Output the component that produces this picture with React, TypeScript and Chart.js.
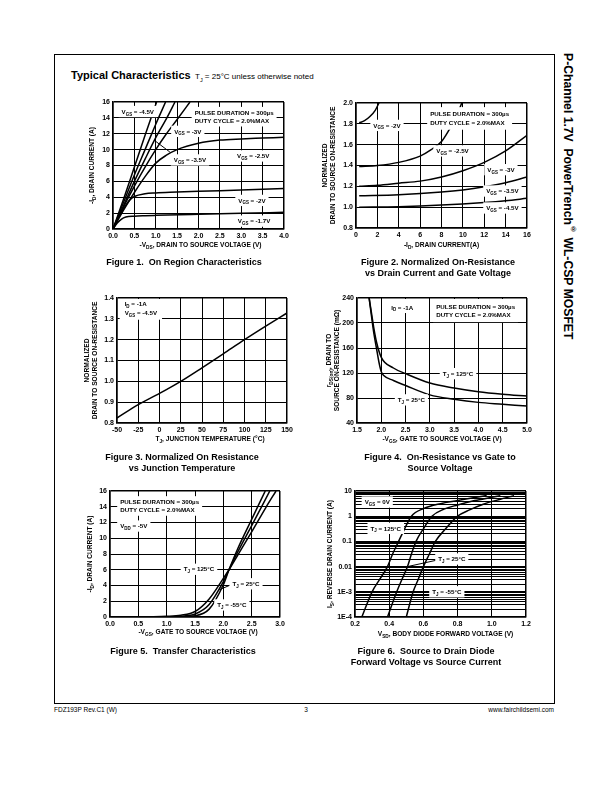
import React, { useEffect, useRef } from "react";
import { Chart, registerables } from "chart.js";

Chart.register(...registerables);

const FONT = "'Liberation Sans', Arial, Helvetica, sans-serif";

// ===== Figure 1: On Region Characteristics =====
const fig1XTicks = [0, 0.5, 1, 1.5, 2, 2.5, 3, 3.5, 4];
const fig1YTicks = [0, 2, 4, 6, 8, 10, 12, 14, 16];
const fig1Vgs45X = [0, 0.25, 0.5, 0.75, 1.02];
const fig1Vgs45Y = [0, 3.8, 7.8, 11.8, 16];
const fig1Vgs4X = [0, 0.25, 0.5, 0.75, 1, 1.23];
const fig1Vgs4Y = [0, 3.4, 6.8, 10, 13.2, 16];
const fig1Vgs35X = [0, 0.25, 0.5, 0.75, 1, 1.25, 1.45];
const fig1Vgs35Y = [0, 3, 6, 8.8, 11.5, 13.9, 16];
const fig1Vgs3X = [0, 0.25, 0.5, 0.75, 1, 1.25, 1.5, 1.8];
const fig1Vgs3Y = [0, 2.8, 5.4, 7.8, 10, 12, 13.8, 16];
const fig1Vgs25X = [0, 0.25, 0.5, 0.75, 1, 1.25, 1.5, 2, 2.5, 3, 3.5, 4];
const fig1Vgs25Y = [0, 2.4, 4.6, 6.6, 8.3, 9.3, 10, 10.8, 11.2, 11.35, 11.45, 11.55];
const fig1Vgs2X = [0, 0.1, 0.2, 0.3, 0.4, 0.5, 0.75, 1, 1.5, 2, 3, 4];
const fig1Vgs2Y = [0, 1.1, 2.1, 3.0, 3.7, 4.1, 4.45, 4.55, 4.65, 4.75, 4.9, 5.1];
const fig1Vgs17X = [0, 0.1, 0.2, 0.3, 0.5, 0.75, 1, 2, 3, 4];
const fig1Vgs17Y = [0, 0.75, 1.25, 1.5, 1.62, 1.68, 1.72, 1.85, 1.97, 2.1];

// ===== Figure 2: Normalized On-Resistance vs Drain Current =====
const fig2XTicks = [0, 2, 4, 6, 8, 10, 12, 14, 16];
const fig2YTicks = [0.8, 1.0, 1.2, 1.4, 1.6, 1.8, 2.0];
const fig2Vgs2X = [0.3, 0.8, 1.3, 1.8, 2.15];
const fig2Vgs2Y = [1.81, 1.83, 1.87, 1.93, 2.0];
const fig2Vgs25X = [0.3, 2, 4, 6, 7, 8, 8.7, 9.3, 9.9];
const fig2Vgs25Y = [1.39, 1.4, 1.43, 1.49, 1.55, 1.63, 1.74, 1.85, 2.0];
const fig2Vgs3X = [0.3, 2, 4, 6, 8, 10, 12, 14, 16];
const fig2Vgs3Y = [1.2, 1.21, 1.23, 1.25, 1.29, 1.35, 1.43, 1.54, 1.69];
const fig2Vgs35X = [0.3, 4, 8, 10, 12, 14, 16];
const fig2Vgs35Y = [1.11, 1.12, 1.145, 1.165, 1.195, 1.235, 1.29];
const fig2Vgs45X = [0.3, 4, 8, 12, 14, 16];
const fig2Vgs45Y = [1.0, 1.005, 1.02, 1.045, 1.062, 1.085];

// ===== Figure 3: Normalized On-Resistance vs Junction Temperature =====
const fig3XTicks = [-50, -25, 0, 25, 50, 75, 100, 125, 150];
const fig3YTicks = [0.8, 0.9, 1.0, 1.1, 1.2, 1.3, 1.4];
const fig3TempX = [-50, -25, 0, 25, 50, 75, 100, 125, 150];
const fig3RdsY = [0.824, 0.888, 0.942, 1.0, 1.065, 1.132, 1.2, 1.265, 1.328];

// ===== Figure 4: On-Resistance vs Gate to Source Voltage =====
const fig4XTicks = [1.5, 2.0, 2.5, 3.0, 3.5, 4.0, 4.5, 5.0];
const fig4YTicks = [40, 80, 120, 160, 200, 240];
const fig4T125X = [1.75, 1.8, 1.85, 1.9, 2.0, 2.25, 2.5, 3, 3.5, 4, 4.5, 5];
const fig4T125Y = [240, 215, 190, 170, 145, 128, 119, 104, 96, 90, 86, 83];
const fig4T25X = [1.75, 1.8, 1.85, 1.9, 1.95, 2.0, 2.05, 2.25, 2.5, 3, 3.5, 4, 4.5, 5];
const fig4T25Y = [240, 210, 182, 160, 138, 122, 116, 108, 100, 85, 78, 73, 70, 67];

// ===== Figure 5: Transfer Characteristics =====
const fig5XTicks = [0, 0.5, 1.0, 1.5, 2.0, 2.5, 3.0];
const fig5YTicks = [0, 2, 4, 6, 8, 10, 12, 14, 16];
const fig5T125X = [0.65, 1.0, 1.25, 1.5, 1.75, 2.0, 2.1, 2.25, 2.5, 2.75, 2.93];
const fig5T125Y = [0.02, 0.08, 0.22, 0.7, 2.3, 4.9, 6.0, 7.8, 10.8, 13.9, 16];
const fig5T25X = [0.65, 1.0, 1.25, 1.5, 1.75, 2.0, 2.1, 2.25, 2.5, 2.82];
const fig5T25Y = [0.01, 0.03, 0.1, 0.38, 1.6, 4.5, 6.0, 8.2, 11.6, 16];
const fig5Tm55X = [0.65, 1.0, 1.25, 1.5, 1.75, 2.0, 2.1, 2.25, 2.5, 2.74];
const fig5Tm55Y = [0, 0.01, 0.04, 0.15, 1.0, 4.1, 6.0, 8.6, 12.4, 16];

// ===== Figure 6: Source to Drain Diode Forward Voltage =====
const fig6XTicks = [0.2, 0.4, 0.6, 0.8, 1.0, 1.2];
const fig6YDecades = [0.0001, 0.001, 0.01, 0.1, 1, 10];
const fig6YDecadeLabels = ["1E-4", "1E-3", "0.01", "0.1", "1", "10"];
const fig6T125X = [0.24, 0.3, 0.345, 0.39, 0.42, 0.455, 0.49, 0.53, 0.6, 0.7, 0.8, 0.9, 0.97];
const fig6T125Y = [0.0001, 0.001, 0.00316, 0.01, 0.0316, 0.1, 0.316, 1, 2.0, 3.16, 4.17, 5.5, 6.6];
const fig6T25X = [0.39, 0.444, 0.475, 0.507, 0.53, 0.557, 0.6, 0.65, 0.72, 0.8, 0.9, 1.0, 1.05];
const fig6T25Y = [0.0001, 0.001, 0.00316, 0.01, 0.0316, 0.1, 0.316, 1, 1.9, 2.8, 4.17, 5.6, 6.5];
const fig6Tm55X = [0.5, 0.54, 0.57, 0.6, 0.635, 0.67, 0.73, 0.8, 0.87, 0.95, 1.05, 1.13];
const fig6Tm55Y = [0.0001, 0.001, 0.00316, 0.01, 0.0316, 0.1, 0.316, 1, 1.78, 3.0, 4.7, 6.5];

// ---------- rich text helpers ----------
type Seg = { t: string; m: number };
function parseRich(s: string): Seg[] {
  const out: Seg[] = [];
  let buf = "";
  let i = 0;
  while (i < s.length) {
    if ((s[i] === "_" || s[i] === "^") && s[i + 1] === "{") {
      if (buf) { out.push({ t: buf, m: 0 }); buf = ""; }
      const end = s.indexOf("}", i);
      out.push({ t: s.slice(i + 2, end), m: s[i] === "_" ? 1 : 2 });
      i = end + 1;
    } else {
      buf += s[i];
      i++;
    }
  }
  if (buf) out.push({ t: buf, m: 0 });
  return out;
}
function segFont(seg: Seg, size: number, weight: string) {
  const sz = seg.m ? size * 0.72 : size;
  return `${weight} ${sz}px ${FONT}`;
}
function richMeasure(ctx: CanvasRenderingContext2D, s: string, size: number, weight: string) {
  let w = 0;
  for (const seg of parseRich(s)) {
    ctx.font = segFont(seg, size, weight);
    w += ctx.measureText(seg.t).width;
  }
  return w;
}
function richDraw(ctx: CanvasRenderingContext2D, s: string, x: number, y: number, size: number, weight: string, align: string) {
  const segs = parseRich(s);
  const total = richMeasure(ctx, s, size, weight);
  let cx = align === "center" ? x - total / 2 : align === "right" ? x - total : x;
  ctx.textAlign = "left";
  ctx.textBaseline = "alphabetic";
  ctx.fillStyle = "#000";
  const base = y + size * 0.35;
  for (const seg of segs) {
    ctx.font = segFont(seg, size, weight);
    const dy = seg.m === 1 ? size * 0.3 : seg.m === 2 ? -size * 0.38 : 0;
    ctx.fillText(seg.t, cx, base + dy);
    cx += ctx.measureText(seg.t).width;
  }
}

type Label = { x: number; y: number; lines: string[]; align?: string; padX?: number; padY?: number; toTop?: boolean };
type Spec = {
  plot: { l: number; t: number; r: number; b: number };
  series: { x: number[]; y: number[] }[];
  xMin: number; xMax: number; yMin: number; yMax: number;
  xTicks: number[]; yTicks: number[];
  xFmt: (v: number) => string; yFmt: (v: number) => string;
  yLog?: boolean;
  labels: Label[];
  leaders?: number[][];
  xTitle: string; xTitleDx?: number; xTitleDy: number;
  yTitle: string[]; yTitleOff: number[];
};

const ML = 52, MT = 12, MR = 14, MB = 30, YW = 24, XH = 12;

function makeDeco(spec: Spec) {
  return {
    id: "deco",
    afterDatasetsDraw(chart: any) {
      const ctx: CanvasRenderingContext2D = chart.ctx;
      const xs = chart.scales.x, ys = chart.scales.y, a = chart.chartArea;
      ctx.save();
      ctx.beginPath();
      ctx.rect(a.left + 1, a.top + 1, a.right - a.left - 2, a.bottom - a.top - 2);
      ctx.clip();
      ctx.strokeStyle = "#000";
      ctx.lineWidth = 1;
      for (const L of spec.leaders || []) {
        ctx.beginPath();
        ctx.moveTo(xs.getPixelForValue(L[0]), ys.getPixelForValue(L[1]));
        ctx.lineTo(xs.getPixelForValue(L[2]), ys.getPixelForValue(L[3]));
        ctx.stroke();
      }
      for (const an of spec.labels) {
        const size = 6.2, lh = 8.3;
        const px = xs.getPixelForValue(an.x), py = ys.getPixelForValue(an.y);
        const w = Math.max(...an.lines.map((l) => richMeasure(ctx, l, size, "bold")));
        const h = lh * an.lines.length;
        const left = an.align === "left" ? px : px - w / 2;
        const top = py - h / 2;
        const padX = an.padX ?? 3, padY = an.padY ?? 1.5;
        const boxTop = an.toTop ? a.top : top - padY;
        ctx.fillStyle = "#fff";
        ctx.fillRect(left - padX, boxTop, w + 2 * padX, top + h + padY - boxTop);
        an.lines.forEach((l, i) => richDraw(ctx, l, left, top + lh * (i + 0.5), size, "bold", "left"));
      }
      ctx.restore();
      ctx.save();
      const cx = (a.left + a.right) / 2 + (spec.xTitleDx || 0);
      richDraw(ctx, spec.xTitle, cx, a.bottom + spec.xTitleDy, 6.6, "bold", "center");
      const cy = (a.top + a.bottom) / 2;
      spec.yTitle.forEach((t, i) => {
        ctx.save();
        ctx.translate(a.left - spec.yTitleOff[i], cy);
        ctx.rotate(-Math.PI / 2);
        richDraw(ctx, t, 0, 0, 6.6, "bold", "center");
        ctx.restore();
      });
      ctx.restore();
    },
  };
}

function gridWidth(n: () => number) {
  return (c: any) => (c.index === 0 || c.index === n() - 1 ? 1.5 : 1);
}

function ChartBox({ spec }: { spec: Spec }) {
  const ref = useRef<HTMLCanvasElement>(null);
  const { l, t, r, b } = spec.plot;
  const w = r - l + ML + MR;
  const h = b - t + MT + MB;
  useEffect(() => {
    const tickFont = { family: FONT, size: 7, weight: "bold" as const };
    const xTickVals = spec.xTicks;
    const yTickVals = spec.yTicks;
    const chart = new Chart(ref.current!, {
      type: "line",
      data: {
        datasets: spec.series.map((s) => ({
          data: s.x.map((x, i) => ({ x, y: s.y[i] })),
          borderColor: "#000",
          borderWidth: 1.5,
          pointRadius: 0,
          fill: false,
          cubicInterpolationMode: "monotone" as const,
        })),
      },
      options: {
        animation: false,
        responsive: false,
        maintainAspectRatio: false,
        layout: { padding: { left: ML - YW, top: MT, right: MR, bottom: MB - XH } },
        plugins: { legend: { display: false }, tooltip: { enabled: false }, title: { display: false } },
        scales: {
          x: {
            type: "linear",
            min: spec.xMin,
            max: spec.xMax,
            afterBuildTicks: (s: any) => { s.ticks = xTickVals.map((v) => ({ value: v })); },
            afterFit: (s: any) => { s.height = XH; },
            ticks: { autoSkip: false, maxRotation: 0, padding: 3, color: "#000", font: tickFont, callback: (v: any) => spec.xFmt(Number(v)) },
            grid: { color: "#000", lineWidth: gridWidth(() => xTickVals.length), drawTicks: false },
            border: { display: true, color: "#000", width: 1.5 },
          },
          y: {
            type: spec.yLog ? "logarithmic" : "linear",
            min: spec.yMin,
            max: spec.yMax,
            afterBuildTicks: (s: any) => { s.ticks = yTickVals.map((v) => ({ value: v })); },
            afterFit: (s: any) => { s.width = YW; },
            ticks: { autoSkip: false, padding: 3, color: "#000", font: tickFont, callback: (v: any) => spec.yFmt(Number(v)) },
            grid: { color: "#000", lineWidth: gridWidth(() => yTickVals.length), drawTicks: false },
            border: { display: true, color: "#000", width: 1.5 },
          },
        },
      } as any,
      plugins: [makeDeco(spec)],
    });
    return () => chart.destroy();
  }, []);
  return (
    <canvas
      ref={ref}
      width={w}
      height={h}
      style={{ position: "absolute", left: l - ML, top: t - MT, width: w, height: h }}
    />
  );
}

const f1 = (v: number) => v.toFixed(1);
const f0 = (v: number) => String(Math.round(v));

const fig6YAll: number[] = [];
fig6YDecades.forEach((d, i) => {
  if (i === fig6YDecades.length - 1) { fig6YAll.push(d); return; }
  for (let k = 1; k <= 9; k++) fig6YAll.push(d * k);
});
const fig6YFmt = (v: number) => {
  const lg = Math.log10(v);
  if (Math.abs(lg - Math.round(lg)) < 1e-6) {
    const idx = fig6YDecades.findIndex((d) => Math.abs(Math.log10(d) - lg) < 1e-6);
    return idx >= 0 ? fig6YDecadeLabels[idx] : "";
  }
  return "";
};

const specs: Spec[] = [
  {
    plot: { l: 113, t: 102, r: 284, b: 229 },
    series: [
      { x: fig1Vgs45X, y: fig1Vgs45Y }, { x: fig1Vgs4X, y: fig1Vgs4Y }, { x: fig1Vgs35X, y: fig1Vgs35Y },
      { x: fig1Vgs3X, y: fig1Vgs3Y }, { x: fig1Vgs25X, y: fig1Vgs25Y }, { x: fig1Vgs2X, y: fig1Vgs2Y },
      { x: fig1Vgs17X, y: fig1Vgs17Y },
    ],
    xMin: 0, xMax: 4, yMin: 0, yMax: 16, xTicks: fig1XTicks, yTicks: fig1YTicks, xFmt: f1, yFmt: f0,
    labels: [
      { x: 0.58, y: 14.8, lines: ["V_{GS} = -4.5V"] },
      { x: 1.91, y: 14.15, align: "left", lines: ["PULSE DURATION = 300µs", "DUTY CYCLE = 2.0%MAX"] },
      { x: 1.75, y: 12.3, lines: ["V_{GS} = -3V"] },
      { x: 1.8, y: 8.7, lines: ["V_{GS} = -3.5V"] },
      { x: 3.28, y: 9.2, lines: ["V_{GS} = -2.5V"] },
      { x: 3.25, y: 3.6, lines: ["V_{GS} = -2V"] },
      { x: 3.3, y: 1.0, lines: ["V_{GS} = -1.7V"] },
    ],
    leaders: [[0.96, 11.2, 1.33, 9.7]],
    xTitle: "-V_{DS}, DRAIN TO SOURCE VOLTAGE (V)", xTitleDx: 2, xTitleDy: 16,
    yTitle: ["-I_{D}, DRAIN CURRENT (A)"], yTitleOff: [21.5],
  },
  {
    plot: { l: 356, t: 103, r: 527, b: 228 },
    series: [
      { x: fig2Vgs2X, y: fig2Vgs2Y }, { x: fig2Vgs25X, y: fig2Vgs25Y }, { x: fig2Vgs3X, y: fig2Vgs3Y },
      { x: fig2Vgs35X, y: fig2Vgs35Y }, { x: fig2Vgs45X, y: fig2Vgs45Y },
    ],
    xMin: 0, xMax: 16, yMin: 0.8, yMax: 2.0, xTicks: fig2XTicks, yTicks: fig2YTicks, xFmt: f0, yFmt: f1,
    labels: [
      { x: 2.9, y: 1.785, lines: ["V_{GS} = -2V"] },
      { x: 6.94, y: 1.852, align: "left", padY: 3, lines: ["PULSE DURATION = 300µs", "DUTY CYCLE = 2.0%MAX"] },
      { x: 9.03, y: 1.54, lines: ["V_{GS} = -2.5V"] },
      { x: 13.56, y: 1.36, lines: ["V_{GS} = -3V"] },
      { x: 13.7, y: 1.155, lines: ["V_{GS} = -3.5V"] },
      { x: 13.7, y: 0.992, lines: ["V_{GS} = -4.5V"] },
    ],
    xTitle: "-I_{D}, DRAIN CURRENT(A)", xTitleDy: 17,
    yTitle: ["NORMALIZED", "DRAIN TO SOURCE ON-RESISTANCE"], yTitleOff: [31, 23],
  },
  {
    plot: { l: 117, t: 298, r: 287, b: 423 },
    series: [{ x: fig3TempX, y: fig3RdsY }],
    xMin: -50, xMax: 150, yMin: 0.8, yMax: 1.4, xTicks: fig3XTicks, yTicks: fig3YTicks, xFmt: f0, yFmt: f1,
    labels: [
      { x: -41, y: 1.35, align: "left", padX: 5, toTop: true, padY: 3, lines: ["I_{D} = -1A", "V_{GS} = -4.5V"] },
    ],
    xTitle: "T_{J}, JUNCTION TEMPERATURE (°C)", xTitleDx: 8, xTitleDy: 16,
    yTitle: ["NORMALIZED", "DRAIN TO SOURCE ON-RESISTANCE"], yTitleOff: [30, 22],
  },
  {
    plot: { l: 357, t: 298, r: 527, b: 423 },
    series: [{ x: fig4T125X, y: fig4T125Y }, { x: fig4T25X, y: fig4T25Y }],
    xMin: 1.5, xMax: 5, yMin: 40, yMax: 240, xTicks: fig4XTicks, yTicks: fig4YTicks, xFmt: f1, yFmt: f0,
    labels: [
      { x: 2.43, y: 225, toTop: true, lines: ["I_{D} = -1A"] },
      { x: 3.13, y: 219.5, align: "left", toTop: true, padY: 3, lines: ["PULSE DURATION = 300µs", "DUTY CYCLE = 2.0%MAX"] },
      { x: 3.58, y: 119, lines: ["T_{J} = 125°C"] },
      { x: 2.62, y: 77, lines: ["T_{J} = 25°C"] },
    ],
    xTitle: "-V_{GS}, GATE TO SOURCE VOLTAGE (V)", xTitleDy: 16,
    yTitle: ["r_{DS(on)}, DRAIN TO", "SOURCE ON-RESISTANCE (mΩ)"], yTitleOff: [28, 20],
  },
  {
    plot: { l: 110, t: 491, r: 280, b: 617 },
    series: [{ x: fig5T125X, y: fig5T125Y }, { x: fig5T25X, y: fig5T25Y }, { x: fig5Tm55X, y: fig5Tm55Y }],
    xMin: 0, xMax: 3, yMin: 0, yMax: 16, xTicks: fig5XTicks, yTicks: fig5YTicks, xFmt: f1, yFmt: f0,
    labels: [
      { x: 0.18, y: 14.1, align: "left", lines: ["PULSE DURATION = 300µs", "DUTY CYCLE = 2.0%MAX"] },
      { x: 0.42, y: 11.55, lines: ["V_{DD} = -5V"] },
      { x: 1.57, y: 6.06, lines: ["T_{J} = 125°C"] },
      { x: 2.4, y: 4.22, lines: ["T_{J} = 25°C"] },
      { x: 2.15, y: 1.53, lines: ["T_{J} = -55°C"] },
    ],
    leaders: [[2.15, 4.14, 1.93, 3.46]],
    xTitle: "-V_{GS}, GATE TO SOURCE VOLTAGE (V)", xTitleDx: 3, xTitleDy: 15,
    yTitle: ["-I_{D}, DRAIN CURRENT (A)"], yTitleOff: [20],
  },
  {
    plot: { l: 355, t: 491, r: 526, b: 617 },
    series: [{ x: fig6T125X, y: fig6T125Y }, { x: fig6T25X, y: fig6T25Y }, { x: fig6Tm55X, y: fig6Tm55Y }],
    xMin: 0.2, xMax: 1.2, yMin: 0.0001, yMax: 10, yLog: true, xTicks: fig6XTicks, yTicks: fig6YAll,
    xFmt: f1, yFmt: fig6YFmt,
    labels: [
      { x: 0.33, y: 3.66, lines: ["V_{GS} = 0V"] },
      { x: 0.38, y: 0.33, lines: ["T_{J} = 125°C"] },
      { x: 0.766, y: 0.02, lines: ["T_{J} = 25°C"] },
      { x: 0.737, y: 0.001, lines: ["T_{J} = -55°C"] },
    ],
    leaders: [[0.675, 0.0178, 0.5125, 0.0102]],
    xTitle: "V_{SD}, BODY DIODE FORWARD VOLTAGE (V)", xTitleDx: 5, xTitleDy: 17,
    yTitle: ["I_{S}, REVERSE DRAIN CURRENT (A)"], yTitleOff: [25],
  },
];

function Txt(props: { x: number; y: number; size: number; bold?: boolean; align?: string; children: React.ReactNode }) {
  const { x, y, size, bold, align, children } = props;
  const style: React.CSSProperties = {
    position: "absolute",
    top: y - 0.8465 * size,
    fontSize: size,
    lineHeight: `${size}px`,
    fontWeight: bold ? "bold" : "normal",
    whiteSpace: "nowrap",
  };
  if (align === "center") { style.left = x; style.transform = "translateX(-50%)"; }
  else if (align === "right") { style.right = 612 - x; }
  else style.left = x;
  return <div style={style}>{children}</div>;
}

export default function App() {
  return (
    <div style={{ position: "absolute", left: 0, top: 0, width: 612, height: 792, background: "#fff", fontFamily: FONT, color: "#000" }}>
      <div style={{ position: "absolute", left: 54, top: 54, width: 501, height: 650, border: "1px solid #000", boxSizing: "border-box" }} />
      <Txt x={71} y={79.5} size={11} bold>Typical Characteristics</Txt>
      <Txt x={195} y={79.5} size={8}>T<sub style={{ fontSize: 5.5 }}>J</sub> = 25°C unless otherwise noted</Txt>
      <div style={{ position: "absolute", left: 561, top: 53, writingMode: "vertical-rl", fontSize: 12.2, lineHeight: "13px", fontWeight: "bold", whiteSpace: "nowrap" }}>
        P-Channel 1.7V&nbsp; PowerTrench<sup style={{ fontSize: 7.5 }}>®</sup> WL-CSP MOSFET
      </div>
      {specs.map((s, i) => <ChartBox key={i} spec={s} />)}
      <Txt x={184} y={265.5} size={9} bold align="center">Figure 1.&nbsp; On Region Characteristics</Txt>
      <Txt x={438} y={265.5} size={9} bold align="center">Figure 2. Normalized On-Resistance</Txt>
      <Txt x={438} y={276.5} size={9} bold align="center">vs Drain Current and Gate Voltage</Txt>
      <Txt x={182} y={461} size={9} bold align="center">Figure 3. Normalized On Resistance</Txt>
      <Txt x={182} y={471.5} size={9} bold align="center">vs Junction Temperature</Txt>
      <Txt x={440} y={461} size={9} bold align="center">Figure 4.&nbsp; On-Resistance vs Gate to</Txt>
      <Txt x={440} y={471.5} size={9} bold align="center">Source Voltage</Txt>
      <Txt x={183} y={655} size={9} bold align="center">Figure 5.&nbsp; Transfer Characteristics</Txt>
      <Txt x={426} y={655} size={9} bold align="center">Figure 6.&nbsp; Source to Drain Diode</Txt>
      <Txt x={426} y={666} size={9} bold align="center">Forward Voltage vs Source Current</Txt>
      <Txt x={54} y={713} size={6.5}>FDZ193P Rev.C1 (W)</Txt>
      <Txt x={306} y={713} size={6.5} align="center">3</Txt>
      <Txt x={554} y={713} size={6.5} align="right">www.fairchildsemi.com</Txt>
    </div>
  );
}
